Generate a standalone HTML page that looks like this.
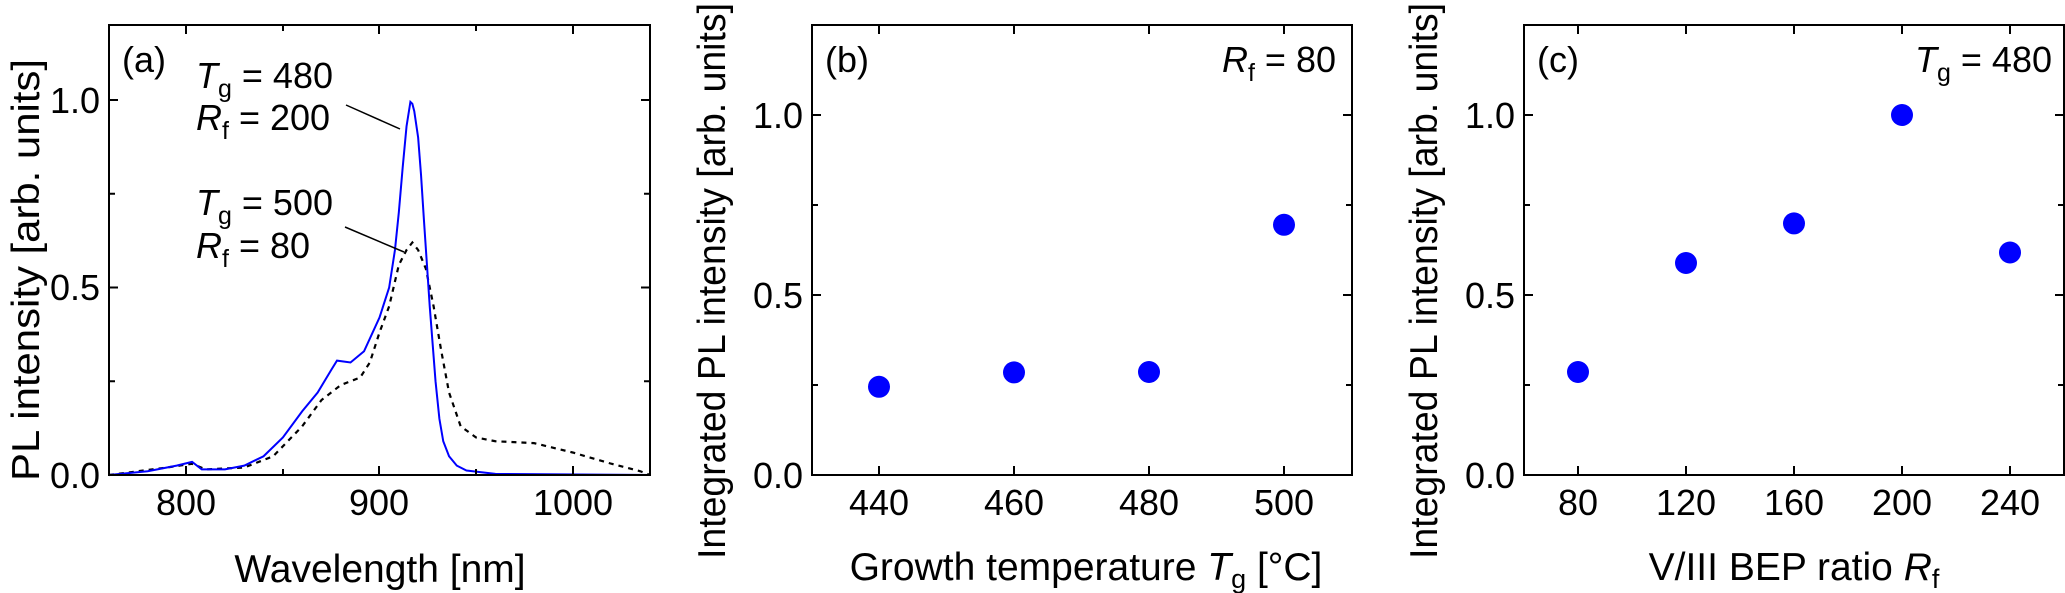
<!DOCTYPE html>
<html><head><meta charset="utf-8"><style>
body{margin:0;background:#fff}
svg{display:block}
text{font-family:"Liberation Sans","DejaVu Sans",sans-serif;fill:#000}
</style></head><body>
<svg width="2065" height="593" viewBox="0 0 2065 593" xmlns="http://www.w3.org/2000/svg">
<g font-size="36">
<!-- Panel a -->
<g transform="translate(109,475) scale(1.9321,-375)">
<path vector-effect="non-scaling-stroke" fill="none" stroke="#000" stroke-width="2.2" stroke-dasharray="5,5"
d="M0,0 L30,0.02 L43,0.03 L50,0.015 L70,0.02 L85,0.05 L100,0.13 L110,0.2 L120,0.24 L130,0.26 L135,0.3 L140,0.38 L145,0.45 L150,0.56 L154,0.6 L157,0.62 L160,0.6 L164,0.55 L168,0.45 L172,0.33 L176,0.22 L182,0.13 L190,0.1 L200,0.09 L220,0.085 L240,0.06 L260,0.03 L275,0.01 L280,0"/>
<path vector-effect="non-scaling-stroke" fill="none" stroke="#0000ff" stroke-width="2"
d="M0,0 L20,0.01 L35,0.025 L43,0.035 L48,0.015 L60,0.015 L70,0.025 L80,0.05 L90,0.1 L100,0.17 L108,0.22 L115,0.28 L118,0.305 L125,0.3 L132,0.33 L140,0.42 L145,0.5 L148,0.6 L150,0.7 L152,0.82 L154,0.93 L156,0.995 L157,0.99 L158,0.97 L160,0.9 L161.5,0.8 L163,0.68 L166,0.45 L169,0.25 L171,0.15 L173,0.09 L176,0.05 L180,0.025 L185,0.012 L200,0.003 L280,0"/>
</g>
<rect x="109" y="25" width="541" height="450" fill="none" stroke="#000" stroke-width="2"/>
<g stroke="#000" stroke-width="2">
<path d="M186,475v-9M186,25v9M379,475v-9M379,25v9M573,475v-9M573,25v9M283,475v-6M283,25v6M476,475v-6M476,25v6"/>
<path d="M109,100h9M650,100h-9M109,287.5h9M650,287.5h-9M109,193.75h6M650,193.75h-6M109,381.25h6M650,381.25h-6"/>
<path d="M346,105L400,129M345,227L404,252" stroke-width="1.5"/>
</g>
<g text-anchor="middle"><text x="186" y="515">800</text><text x="379" y="515">900</text><text x="573" y="515">1000</text></g>
<g text-anchor="end"><text x="100" y="488">0.0</text><text x="100" y="300">0.5</text><text x="100" y="113">1.0</text></g>
<text x="122" y="72">(a)</text>
<text x="196" y="88" font-size="36"><tspan font-style="italic">T</tspan><tspan font-size="25" dy="9">g</tspan><tspan dy="-9"> = 480</tspan></text>
<text x="196" y="130" font-size="36"><tspan font-style="italic">R</tspan><tspan font-size="25" dy="9">f</tspan><tspan dy="-9"> = 200</tspan></text>
<text x="196" y="215" font-size="36"><tspan font-style="italic">T</tspan><tspan font-size="25" dy="9">g</tspan><tspan dy="-9"> = 500</tspan></text>
<text x="196" y="258" font-size="36"><tspan font-style="italic">R</tspan><tspan font-size="25" dy="9">f</tspan><tspan dy="-9"> = 80</tspan></text>
<text x="380" y="582" font-size="39" text-anchor="middle">Wavelength [nm]</text>
<text transform="translate(39,270) rotate(-90)" font-size="39" text-anchor="middle" textLength="422" lengthAdjust="spacingAndGlyphs">PL intensity [arb. units]</text>

<!-- Panel b -->
<rect x="812" y="25" width="540" height="450" fill="none" stroke="#000" stroke-width="2"/>
<g stroke="#000" stroke-width="2">
<path d="M879,475v-9M879,25v9M1014,475v-9M1014,25v9M1149,475v-9M1149,25v9M1284,475v-9M1284,25v9"/>
<path d="M812,115h9M1352,115h-9M812,295h9M1352,295h-9M812,205h6M1352,205h-6M812,385h6M1352,385h-6"/>
</g>
<g fill="#0000ff"><circle cx="879" cy="386.8" r="11"/><circle cx="1014" cy="372.4" r="11"/><circle cx="1149" cy="372" r="11"/><circle cx="1284" cy="224.8" r="11"/></g>
<g text-anchor="middle"><text x="879" y="515">440</text><text x="1014" y="515">460</text><text x="1149" y="515">480</text><text x="1284" y="515">500</text></g>
<g text-anchor="end"><text x="803" y="488">0.0</text><text x="803" y="308">0.5</text><text x="803" y="128">1.0</text></g>
<text x="825" y="72">(b)</text>
<text x="1336" y="72" text-anchor="end" font-size="36"><tspan font-style="italic">R</tspan><tspan font-size="25" dy="9">f</tspan><tspan dy="-9"> = 80</tspan></text>
<text x="1086" y="580" font-size="39" text-anchor="middle">Growth temperature <tspan font-style="italic">T</tspan><tspan font-size="27" dy="8">g</tspan><tspan dy="-8"> [°C]</tspan></text>
<text transform="translate(725,281) rotate(-90)" font-size="39" text-anchor="middle" textLength="556" lengthAdjust="spacingAndGlyphs">Integrated PL intensity [arb. units]</text>

<!-- Panel c -->
<rect x="1524" y="25" width="540" height="450" fill="none" stroke="#000" stroke-width="2"/>
<g stroke="#000" stroke-width="2">
<path d="M1578,475v-9M1578,25v9M1686,475v-9M1686,25v9M1794,475v-9M1794,25v9M1902,475v-9M1902,25v9M2010,475v-9M2010,25v9"/>
<path d="M1524,115h9M2064,115h-9M1524,295h9M2064,295h-9M1524,205h6M2064,205h-6M1524,385h6M2064,385h-6"/>
</g>
<g fill="#0000ff"><circle cx="1578" cy="372" r="11"/><circle cx="1686" cy="263" r="11"/><circle cx="1794" cy="223.4" r="11"/><circle cx="1902" cy="115" r="11"/><circle cx="2010" cy="252.5" r="11"/></g>
<g text-anchor="middle"><text x="1578" y="515">80</text><text x="1686" y="515">120</text><text x="1794" y="515">160</text><text x="1902" y="515">200</text><text x="2010" y="515">240</text></g>
<g text-anchor="end"><text x="1515" y="488">0.0</text><text x="1515" y="308">0.5</text><text x="1515" y="128">1.0</text></g>
<text x="1537" y="72">(c)</text>
<text x="2052" y="72" text-anchor="end" font-size="36"><tspan font-style="italic">T</tspan><tspan font-size="25" dy="9">g</tspan><tspan dy="-9"> = 480</tspan></text>
<text x="1794" y="580" font-size="39" text-anchor="middle">V/III BEP ratio <tspan font-style="italic">R</tspan><tspan font-size="27" dy="8">f</tspan></text>
<text transform="translate(1437,281) rotate(-90)" font-size="39" text-anchor="middle" textLength="556" lengthAdjust="spacingAndGlyphs">Integrated PL intensity [arb. units]</text>
</g>
</svg>
</body></html>
